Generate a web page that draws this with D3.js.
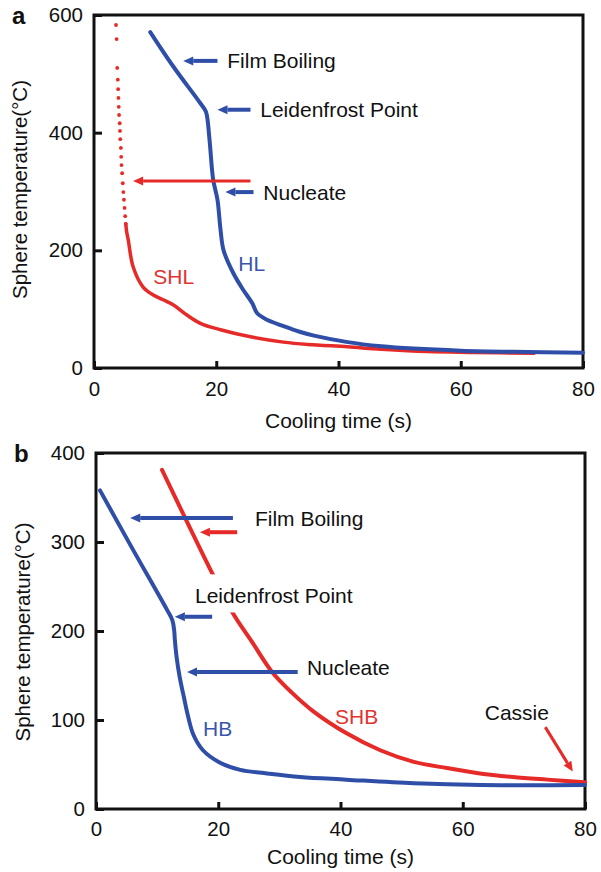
<!DOCTYPE html>
<html>
<head>
<meta charset="utf-8">
<script src="https://cdn.jsdelivr.net/npm/d3@7"></script>
<style>
  html, body { margin: 0; padding: 0; background: #fff; }
  svg text { font-family: "Liberation Sans", Arial, Helvetica, sans-serif; }
</style>
</head>
<body>
<svg id="fig" width="601" height="872"></svg>
<script>
// ---- Panel a: hydrophilic (HL) vs superhydrophilic (SHL) spheres ----
const xTicks = [0, 20, 40, 60, 80];
const yTicksA = [0, 200, 400, 600];
const yTicksB = [0, 100, 200, 300, 400];

// SHL: sparse samples during the fast drop (drawn as dots), then the dense record
const shlDotTime = [3.6, 3.7, 3.8, 3.9, 3.95, 4.0, 4.05, 4.1, 4.2, 4.25, 4.3, 4.4, 4.45, 4.5, 4.6, 4.7, 4.8, 4.9, 5.0, 5.1, 5.2];
const shlDotTemp = [583, 559, 510, 490, 474, 459, 444, 430, 416, 403, 389, 374, 359, 345, 331, 314, 299, 286, 272, 258, 245];
const shlTime = [5.2, 5.35, 5.6, 6.4, 8.0, 9.7, 11.3, 13.0, 15.2, 17.4, 20.7, 25.6, 31.0, 35.0, 41.5, 47.0, 54.6, 62.0, 72.0];
const shlTemp = [245, 231, 218, 172, 138, 124, 116, 107, 90, 76, 65, 53, 44, 40, 36, 32, 28, 26.5, 25];

const hlTime = [9.2, 13.0, 17.4, 18.3, 18.6, 18.8, 19.0, 19.5, 20.2, 20.7, 21.2, 22.8, 24.4, 25.9, 26.7, 28.3, 30.8, 33.5, 36.0, 41.5, 47.0, 52.3, 60.0, 68.7, 80.0];
const hlTemp = [571, 512, 450, 436, 420, 399, 376, 320, 286, 235, 200, 161, 133, 110, 93, 82, 72, 62, 55, 44, 37, 33, 29.5, 27.5, 26];

// ---- Panel b: hydrophobic (HB) vs superhydrophobic (SHB) spheres ----
const hbTime = [0.65, 6.0, 11.6, 12.5, 12.8, 12.9, 13.2, 13.7, 14.4, 15.0, 15.9, 17.5, 20.3, 23.6, 28.0, 33.4, 41.0, 52.0, 63.0, 80.0];
const hbTemp = [358, 292, 224, 212, 200, 190, 170, 148, 125, 106, 84, 66, 52, 44, 40, 36, 33, 29, 27, 27];

const shbTime = [10.8, 19.0, 22.4, 25.5, 28.8, 32.0, 35.5, 41.0, 46.5, 52.0, 57.4, 62.8, 68.2, 73.8, 80.0];
const shbTemp = [381, 265, 220, 188, 154, 131, 110, 85, 66, 53, 46, 40, 36, 33, 30];

// Annotation arrows: [tailTime, tailTemp, headTime, headTemp]
const arrowsA = [
  { c: "blue", w: 4, p: [20.2, 522, 14.6, 522] },
  { c: "blue", w: 4, p: [25.6, 439, 20.2, 439] },
  { c: "red",  w: 3, p: [25.6, 318, 6.4, 318] },
  { c: "blue", w: 4, p: [26.1, 299, 21.5, 299] }
];
const arrowsB = [
  { c: "blue", w: 4, p: [22.4, 327, 5.6, 327] },
  { c: "red",  w: 4, p: [23.1, 311, 17.0, 311] },
  { c: "blue", w: 4, p: [19.0, 216, 12.9, 216] },
  { c: "blue", w: 4, p: [33.0, 154, 14.9, 154] },
  { c: "red",  w: 3, p: [73.5, 92, 78.0, 42] }
];
// Text labels: [time, temp, text, colour, white backing]
const labelsA = [
  [21.8, 522, "Film Boiling", "black"],
  [27.2, 439, "Leidenfrost Point", "black"],
  [27.7, 299, "Nucleate", "black"],
  [9.7, 155, "SHL", "red"],
  [23.6, 178, "HL", "blue"]
];
const labelsB = [
  [26.0, 327, "Film Boiling", "black"],
  [16.2, 240, "Leidenfrost Point", "black", true],
  [34.5, 159, "Nucleate", "black"],
  [17.5, 91, "HB", "blue"],
  [39.1, 104, "SHB", "red"],
  [63.6, 109, "Cassie", "black"]
];

const COLORS = { blue: "#2f4ea8", red: "#e62a28", black: "#111" };
const TEXT_COLORS = { blue: "#3a55ad", red: "#e33330", black: "#111" };

const svg = d3.select("#fig");

function panel(opt) {
  const x = d3.scaleLinear().domain([0, 80]).range([opt.left, opt.right]);
  const y = d3.scaleLinear().domain(opt.yDomain).range([opt.bottom, opt.top]);
  const g = svg.append("g");

  // tick marks + labels (ticks point into the plot)
  const xAxis = g.append("g").attr("transform", `translate(0,${opt.bottom})`)
    .call(d3.axisBottom(x).tickValues(xTicks).tickSizeInner(-7).tickSizeOuter(0).tickPadding(opt.xPad));
  const yAxis = g.append("g").attr("transform", `translate(${opt.left},0)`)
    .call(d3.axisLeft(y).tickValues(opt.yTicks).tickSizeInner(-8).tickSizeOuter(0).tickPadding(11));
  [xAxis, yAxis].forEach(a => {
    a.select(".domain").remove();
    a.selectAll(".tick line").attr("stroke", "#111").attr("stroke-width", 3);
    a.selectAll(".tick text").attr("fill", "#111").style("font-size", "20.5px")
      .style("font-family", '"Liberation Sans", Arial, sans-serif');
  });

  // frame
  g.append("rect").attr("x", opt.left).attr("y", opt.top)
    .attr("width", opt.right - opt.left).attr("height", opt.bottom - opt.top)
    .attr("fill", "none").attr("stroke", "#111").attr("stroke-width", 3);

  // axis titles
  g.append("text").attr("x", (opt.left + opt.right) / 2).attr("y", opt.bottom + opt.xTitleOffset)
    .attr("text-anchor", "middle").style("font-size", "21px").attr("fill", "#111")
    .text("Cooling time (s)");
  g.append("text")
    .attr("transform", `translate(${opt.yTitleX},${(opt.top + opt.bottom) / 2 + opt.yTitleShift}) rotate(-90)`)
    .attr("text-anchor", "middle").style("font-size", "20.5px").attr("fill", "#111")
    .text("Sphere temperature(°C)");
  g.append("text").attr("x", opt.letterX).attr("y", opt.top + 9)
    .style("font-size", "24px").style("font-weight", "bold").attr("fill", "#111")
    .text(opt.letter);

  const line = d3.line().x(d => x(d[0])).y(d => y(d[1])).curve(d3.curveCatmullRom.alpha(0.5));

  opt.series.forEach(s => {
    const pts = d3.zip(s.t, s.v);
    if (s.dots) {
      g.append("g").selectAll("circle").data(pts).join("circle")
        .attr("cx", d => x(d[0])).attr("cy", d => y(d[1])).attr("r", 1.9)
        .attr("fill", COLORS[s.c]);
    } else {
      g.append("path").datum(pts).attr("d", line)
        .attr("fill", "none").attr("stroke", COLORS[s.c]).attr("stroke-width", s.w)
        .attr("stroke-linejoin", "round").attr("stroke-linecap", "round");
    }
  });

  // labels (optional white backing box)
  opt.labels.forEach(l => {
    const tx = x(l[0]), ty = y(l[1]);
    if (l[4]) {
      g.append("rect").attr("x", tx - 4).attr("y", ty - 21).attr("width", 168).attr("height", 38)
        .attr("fill", "#fff");
    }
    g.append("text").attr("x", tx).attr("y", ty).attr("dy", "0.36em")
      .style("font-size", "21px").attr("fill", TEXT_COLORS[l[3]]).text(l[2]);
  });

  // arrows
  opt.arrows.forEach(a => {
    const x1 = x(a.p[0]), y1 = y(a.p[1]), x2 = x(a.p[2]), y2 = y(a.p[3]);
    const ang = Math.atan2(y2 - y1, x2 - x1);
    const hl = 10, hw = 4.5;
    const bx = x2 - hl * Math.cos(ang), by = y2 - hl * Math.sin(ang);
    g.append("line").attr("x1", x1).attr("y1", y1).attr("x2", bx).attr("y2", by)
      .attr("stroke", COLORS[a.c]).attr("stroke-width", a.w);
    const px = -Math.sin(ang), py = Math.cos(ang);
    g.append("path")
      .attr("d", `M${x2},${y2}L${bx + px * hw},${by + py * hw}L${bx - px * hw},${by - py * hw}Z`)
      .attr("fill", COLORS[a.c]);
  });
}

panel({
  left: 94, right: 583, top: 15, bottom: 368, yDomain: [0, 600], yTicks: yTicksA,
  yTitleX: 27, yTitleShift: -2, letter: "a", letterX: 12, xPad: 13, xTitleOffset: 60,
  series: [
    { t: shlDotTime, v: shlDotTemp, c: "red", dots: true },
    { t: shlTime, v: shlTemp, c: "red", w: 3.5 },
    { t: hlTime, v: hlTemp, c: "blue", w: 4 }
  ],
  labels: labelsA, arrows: arrowsA
});

panel({
  left: 96, right: 585, top: 453, bottom: 809, yDomain: [0, 400], yTicks: yTicksB,
  yTitleX: 30, yTitleShift: 1, letter: "b", letterX: 14, xPad: 12, xTitleOffset: 55,
  series: [
    { t: shbTime, v: shbTemp, c: "red", w: 4 },
    { t: hbTime, v: hbTemp, c: "blue", w: 4 }
  ],
  labels: labelsB, arrows: arrowsB
});
</script>
</body>
</html>
